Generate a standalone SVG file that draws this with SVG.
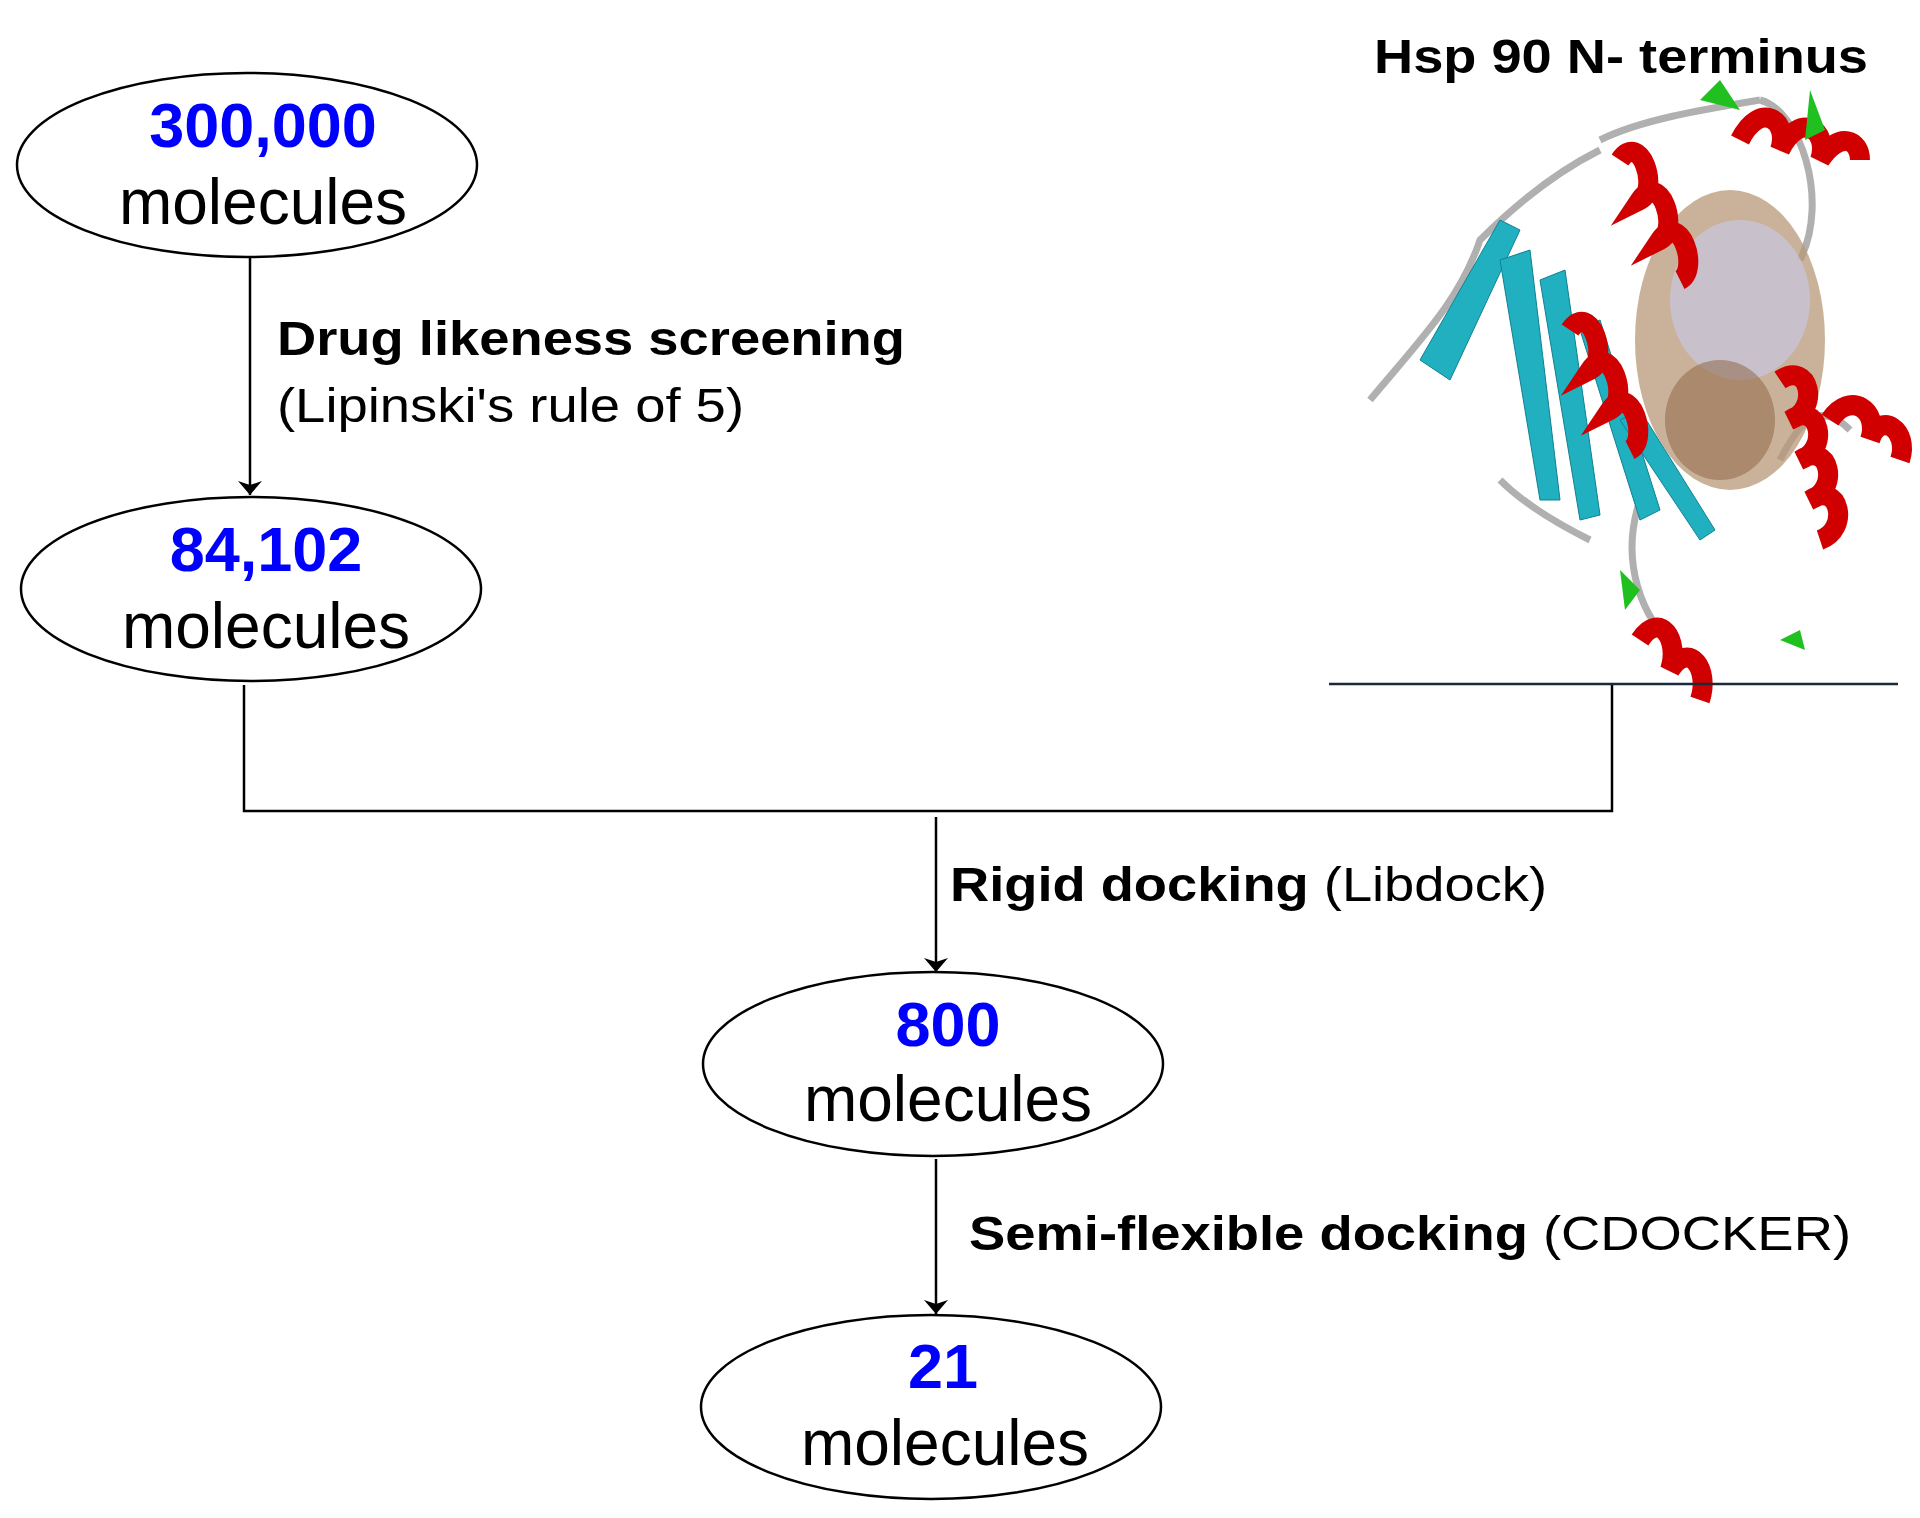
<svg xmlns="http://www.w3.org/2000/svg" width="1920" height="1518" viewBox="0 0 1920 1518">
<style>
.node{fill:#fff;stroke:#000;stroke-width:2.5}
.num{font-family:"Liberation Sans",Arial,sans-serif;font-weight:bold;font-size:63px;fill:#0000ff;text-anchor:middle}
.mol{font-family:"Liberation Sans",Arial,sans-serif;font-size:64px;fill:#000;text-anchor:middle}
.lbl{font-family:"Liberation Sans",Arial,sans-serif;font-size:48px;fill:#000}
.b{font-weight:bold}
.ln{stroke:#000;stroke-width:2.5;fill:none}
.helix{fill:none;stroke:#d00000;stroke-width:20}
.strand{fill:#20b0c0;stroke:#108090;stroke-width:1}
.loop{fill:none;stroke:#b0b0b0;stroke-width:7}
</style>
<defs>
<marker id="ah" viewBox="0 0 14 28" refX="14" refY="14" markerWidth="14" markerHeight="28" orient="auto" markerUnits="userSpaceOnUse">
<path d="M0,2 L14,14 L0,26 L4,14 Z" fill="#000"/>
</marker>
</defs>
<rect width="1920" height="1518" fill="#fff"/>
<g id="protein">
<text class="lbl b" x="1374" y="73" textLength="494" lengthAdjust="spacingAndGlyphs">Hsp 90 N- terminus</text>
<path class="loop" d="M1370,400 C1420,340 1460,300 1480,240 C1520,200 1560,170 1600,150 M1590,540 C1550,520 1520,500 1500,480 M1640,500 C1620,560 1640,620 1680,650 M1780,460 C1800,420 1820,400 1850,430 M1600,140 C1640,120 1700,110 1760,100 M1760,100 C1800,110 1830,200 1800,260"/>
<path class="strand" d="M1420,360 L1500,220 L1520,230 L1450,380 Z"/>
<path class="strand" d="M1500,260 L1540,500 L1560,500 L1530,250 Z"/>
<path class="strand" d="M1540,280 L1580,520 L1600,515 L1565,270 Z"/>
<path class="strand" d="M1580,330 L1640,520 L1660,510 L1600,320 Z"/>
<path class="strand" d="M1620,420 L1700,540 L1715,530 L1640,410 Z"/>
<ellipse cx="1730" cy="340" rx="95" ry="150" fill="#b89878" opacity="0.75"/>
<ellipse cx="1740" cy="300" rx="70" ry="80" fill="#c8c8e0" opacity="0.7"/>
<ellipse cx="1720" cy="420" rx="55" ry="60" fill="#8a6040" opacity="0.5"/>
<path class="helix" d="M1620,160 c20,-30 40,30 20,40 c20,-30 40,30 20,40 c20,-30 40,30 20,40"/>
<path class="helix" d="M1740,140 c20,-40 50,-20 40,10 c20,-40 50,-20 40,10 c20,-30 40,-20 40,0"/>
<path class="helix" d="M1570,330 c20,-30 40,30 20,40 c20,-30 40,30 20,40 c20,-30 40,30 20,40"/>
<path class="helix" d="M1780,380 c30,-20 40,30 10,40 c30,-20 40,30 10,40 c30,-20 40,30 10,40 c30,-20 40,30 10,40"/>
<path class="helix" d="M1830,420 c20,-30 50,-10 40,20 c10,-30 40,-10 30,20"/>
<path class="helix" d="M1640,640 c20,-30 40,0 30,30 c20,-30 40,0 30,30"/>
<path d="M1700,100 l20,-20 l20,30 Z M1810,90 l15,40 l-20,10 Z M1620,570 l20,20 l-15,20 Z M1780,640 l20,-10 l5,20 Z" fill="#20c020"/>
</g>
<g id="connectors">
<line class="ln" x1="250" y1="257" x2="250" y2="495" marker-end="url(#ah)"/>
<polyline class="ln" points="244,685 244,811 1612,811 1612,685"/>
<line x1="1329" y1="684" x2="1898" y2="684" stroke="#1a2a3a" stroke-width="2.5"/>
<line class="ln" x1="936" y1="817" x2="936" y2="972" marker-end="url(#ah)"/>
<line class="ln" x1="936" y1="1159" x2="936" y2="1314" marker-end="url(#ah)"/>
<text class="lbl b" x="277" y="355" textLength="628" lengthAdjust="spacingAndGlyphs">Drug likeness screening</text>
<text class="lbl" x="277" y="422" textLength="467" lengthAdjust="spacingAndGlyphs">(Lipinski's rule of 5)</text>
<text class="lbl" x="950" y="901" textLength="597" lengthAdjust="spacingAndGlyphs"><tspan class="b">Rigid docking</tspan> (Libdock)</text>
<text class="lbl" x="969" y="1250" textLength="882" lengthAdjust="spacingAndGlyphs"><tspan class="b">Semi-flexible docking</tspan> (CDOCKER)</text>
</g>
<g id="n1">
<ellipse class="node" cx="247" cy="165" rx="230" ry="92"/>
<text class="num" x="263" y="147">300,000</text>
<text class="mol" x="263" y="224">molecules</text>
</g>
<g id="n2">
<ellipse class="node" cx="251" cy="589" rx="230" ry="92"/>
<text class="num" x="266" y="571">84,102</text>
<text class="mol" x="266" y="648">molecules</text>
</g>
<g id="n3">
<ellipse class="node" cx="933" cy="1064" rx="230" ry="92"/>
<text class="num" x="948" y="1046">800</text>
<text class="mol" x="948" y="1121">molecules</text>
</g>
<g id="n4">
<ellipse class="node" cx="931" cy="1407" rx="230" ry="92"/>
<text class="num" x="943" y="1388">21</text>
<text class="mol" x="945" y="1465">molecules</text>
</g>
</svg>
